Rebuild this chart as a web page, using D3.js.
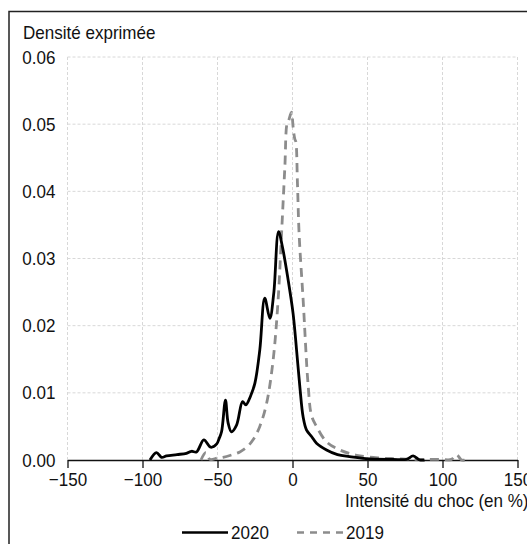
<!DOCTYPE html>
<html>
<head>
<meta charset="utf-8">
<script src="https://cdn.jsdelivr.net/npm/d3@7"></script>
<style>
  html, body { margin: 0; padding: 0; background: #fff; }
  svg text { font-family: "Liberation Sans", Arial, sans-serif; font-size: 18.5px; fill: #111; }
</style>
</head>
<body>
<div id="chartArea"></div>
<script>
// density curves
let x2020 = [-95, -90.7, -87.3, -84, -77, -70.7, -67.3, -64, -59.1, -54.5, -50.5, -48.9, -47.3, -44.7, -42.9, -40.7,
             -37.3, -33.3, -31.1, -28, -25.1, -21.8, -18.5, -15.1, -12.5, -9.3, -6.7, -2.9, 0.4, 2.7, 4.9, 7.1,
             9.3, 12.7, 16, 22.7, 30, 38, 49, 67, 76, 80.4, 84.9, 88];
let d2020 = [0, 0.0011, 0.0004, 0.0006, 0.0008, 0.001, 0.0013, 0.0012, 0.003, 0.0019, 0.0024, 0.0032, 0.0042, 0.0089, 0.0055, 0.0042,
             0.0052, 0.0087, 0.0082, 0.0095, 0.0114, 0.0164, 0.0241, 0.0211, 0.0248, 0.034, 0.0317, 0.0268, 0.0218, 0.0164, 0.0109, 0.0064,
             0.0045, 0.0035, 0.0025, 0.0015, 0.0008, 0.0005, 0.0002, 0.0001, 0.0001, 0.0006, 0, 0];

let x2019 = [-61, -57.8, -55.1, -50, -46.3, -40, -35.1, -30, -26.3, -21.8, -17.3, -12.9, -9.6, -7.3, -5.1, -3.6,
             -2.9, -0.7, 0.4, 1.5, 2.2, 3.3, 4.4, 7.1, 10.4, 12.7, 16, 22.7, 31.5, 42.7, 58.2, 69.3,
             80, 98.2, 106, 109.3, 112.7, 115];
let d2019 = [0, 0.0011, 0.0001, 0.0003, 0.0004, 0.0008, 0.0012, 0.002, 0.003, 0.005, 0.0084, 0.0149, 0.0238, 0.0337, 0.0436, 0.0501,
             0.0503, 0.0518, 0.0496, 0.0478, 0.0474, 0.0412, 0.0337, 0.0238, 0.0112, 0.0066, 0.005, 0.0027, 0.0015, 0.0007, 0.0003, 0.0002,
             0.0001, 0.0001, 0.0001, 0.0008, 0, 0];

let xTicks = [-150, -100, -50, 0, 50, 100, 150];
let yTicks = [0, 0.01, 0.02, 0.03, 0.04, 0.05, 0.06];
let seriesNames = ['2020', '2019'];

let width = 527, height = 544;
let svg = d3.select('#chartArea').append('svg')
   .attr('width', width)
   .attr('height', height);

// frame, right and bottom edges fall outside the picture
svg.append('rect')
   .attr('x', 9).attr('y', 11.5)
   .attr('width', 540).attr('height', 560)
   .attr('fill', 'none')
   .attr('stroke', '#222')
   .attr('stroke-width', 1.5);

let x = d3.scaleLinear().domain([-150, 150]).range([67.5, 517.5]);
let y = d3.scaleLinear().domain([0, 0.06]).range([460, 57]);

let grid = svg.append('g');
grid.selectAll('line.v').data(xTicks).enter().append('line')
   .attr('x1', d => x(d)).attr('x2', d => x(d))
   .attr('y1', y(0.06)).attr('y2', y(0))
   .attr('stroke', '#d8d8d8').attr('stroke-dasharray', '3,2');
grid.selectAll('line.h').data(yTicks.slice(1)).enter().append('line')
   .attr('x1', x(-150)).attr('x2', x(150))
   .attr('y1', d => y(d)).attr('y2', d => y(d))
   .attr('stroke', '#d8d8d8').attr('stroke-dasharray', '3,2');

// y tick labels
svg.selectAll('text.ytick').data(yTicks).enter().append('text')
   .attr('x', 55.5)
   .attr('y', d => y(d))
   .attr('dy', '0.36em')
   .attr('text-anchor', 'end')
   .text(d => d3.format('.2f')(d));

// x axis
let xAxis = svg.append('g')
   .attr('transform', `translate(0,${y(0)})`)
   .call(d3.axisBottom(x).tickValues(xTicks).tickSize(8).tickPadding(5).tickSizeOuter(0));
xAxis.attr('font-family', null).attr('font-size', null);
xAxis.select('.domain').attr('stroke', '#111').attr('stroke-width', 1.3);
xAxis.selectAll('.tick line').attr('stroke', '#111').attr('stroke-width', 1.3);
xAxis.selectAll('.tick text')
   .attr('fill', '#111')
   .attr('dy', '0.71em');

svg.append('text').attr('x', 23).attr('y', 39).text('Densité exprimée');
svg.append('text').attr('x', 345).attr('y', 507).text('Intensité du choc (en %)');

let line = d3.line()
   .x(d => x(d[0]))
   .y(d => y(d[1]))
   .curve(d3.curveCatmullRom.alpha(0.5));

svg.append('path')
   .datum(d3.zip(x2019, d2019))
   .attr('d', line)
   .attr('fill', 'none')
   .attr('stroke', '#8c8c8c')
   .attr('stroke-width', 2.8)
   .attr('stroke-dasharray', '9,6');

svg.append('path')
   .datum(d3.zip(x2020, d2020))
   .attr('d', line)
   .attr('fill', 'none')
   .attr('stroke', '#000')
   .attr('stroke-width', 2.8)
   .attr('stroke-linejoin', 'round');

// legend
let legend = svg.append('g');
let legendX = [182, 297];
legend.selectAll('line').data(seriesNames).enter().append('line')
   .attr('x1', (d, i) => legendX[i]).attr('x2', (d, i) => legendX[i] + 46)
   .attr('y1', 532.5).attr('y2', 532.5)
   .attr('stroke', (d, i) => i == 0 ? '#000' : '#8c8c8c')
   .attr('stroke-width', 2.6)
   .attr('stroke-dasharray', (d, i) => i == 0 ? null : '7,6');
legend.selectAll('text').data(seriesNames).enter().append('text')
   .attr('x', (d, i) => legendX[i] + 49)
   .attr('y', 538.5)
   .text(d => d);

// the original type is a narrow face, squeeze the glyphs a little
svg.selectAll('text').each(function () {
   let w = this.getComputedTextLength();
   d3.select(this)
      .attr('textLength', w * 0.92)
      .attr('lengthAdjust', 'spacingAndGlyphs');
});
</script>
</body>
</html>
